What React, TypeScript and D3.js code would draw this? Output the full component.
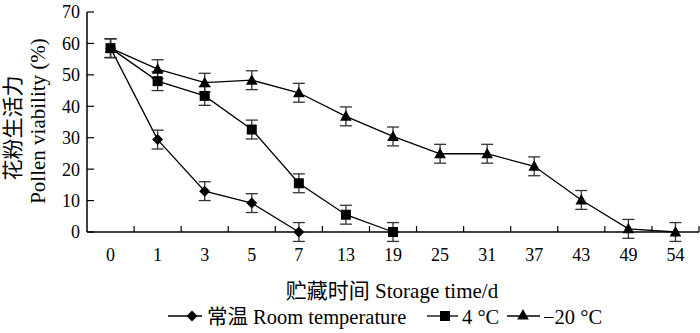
import * as d3 from "d3"

// storage time categories (days)
const days = ["0", "1", "3", "5", "7", "13", "19", "25", "31", "37", "43", "49", "54"]
const yTicks = [0, 10, 20, 30, 40, 50, 60, 70]

// pollen viability (%) per treatment
const roomTemp = [58.5, 29.4, 13.0, 9.2, 0]
const fourC = [58.5, 48.0, 43.3, 32.6, 15.5, 5.5, 0]
const minus20 = [58.5, 51.8, 47.5, 48.3, 44.3, 36.8, 30.4, 24.9, 24.9, 20.9, 10.2, 1.0, 0]
const errRoom = [3, 3, 3, 3, 3]
const errFour = [3, 3, 3, 3, 3, 3, 3]
const errMinus = [3, 3, 3, 3, 3, 3, 3, 3, 3, 3, 3, 3, 3]

const FONT = "'Liberation Serif', 'Times New Roman', 'Noto Sans CJK SC', serif"

const W = 700
const H = 333
const left = 87
const right = 699
const top = 12
const bottom = 232

const x = d3.scaleBand<string>().domain(days).range([left, right]).padding(0)
const y = d3.scaleLinear().domain([0, 70]).range([bottom, top])

type Series = { name: string; values: number[]; errs: number[]; shape: "diamond" | "square" | "triangle" }
const series: Series[] = [
  { name: "room", values: roomTemp, errs: errRoom, shape: "diamond" },
  { name: "4", values: fourC, errs: errFour, shape: "square" },
  { name: "-20", values: minus20, errs: errMinus, shape: "triangle" },
]

function Marker({ shape, cx, cy }: { shape: string; cx: number; cy: number }) {
  if (shape === "diamond") {
    return <path d={`M${cx},${cy - 5.5}L${cx + 5.5},${cy}L${cx},${cy + 5.5}L${cx - 5.5},${cy}Z`} fill="#000" />
  }
  if (shape === "square") {
    const r = 5
    return <rect x={cx - r} y={cy - r} width={r * 2} height={r * 2} fill="#000" />
  }
  return <path d={`M${cx},${cy - 6}L${cx + 5.8},${cy + 4.5}L${cx - 5.8},${cy + 4.5}Z`} fill="#000" />
}

export default function App() {
  const cx = (i: number) => (x(days[i]) as number) + x.bandwidth() / 2
  const line = d3
    .line<number>()
    .x((_, i) => cx(i))
    .y((d) => y(d))

  const boundaries = d3.range(days.length + 1).map((i) => left + i * x.bandwidth())

  return (
    <svg width={W} height={H} style={{ position: "absolute", left: 0, top: 0, background: "#fff" }} fontFamily={FONT}>
      {/* axes */}
      <line x1={left} x2={left} y1={top} y2={bottom} stroke="#000" strokeWidth={1.5} />
      <line x1={left} x2={right} y1={bottom} y2={bottom} stroke="#000" strokeWidth={1.5} />
      {yTicks.map((t) => (
        <g key={t}>
          <line x1={left} x2={left + 7} y1={y(t)} y2={y(t)} stroke="#000" strokeWidth={1.2} />
          <text x={left - 7} y={y(t)} dy="0.36em" textAnchor="end" fontSize={18}>
            {t}
          </text>
        </g>
      ))}
      {boundaries.slice(1).map((b, i) => (
        <line key={i} x1={b} x2={b} y1={bottom} y2={bottom - 6} stroke="#000" strokeWidth={1.2} />
      ))}
      {days.map((d, i) => (
        <text key={d} x={cx(i)} y={261} textAnchor="middle" fontSize={18}>
          {d}
        </text>
      ))}

      {/* axis titles */}
      <text x={392} y={298} textAnchor="middle" fontSize={21}>
        贮藏时间 Storage time/d
      </text>
      <g transform={`translate(0,126) rotate(-90)`}>
        <text x={-2} y={20} textAnchor="middle" fontSize={21}>
          花粉生活力
        </text>
        <text x={5} y={45} textAnchor="middle" fontSize={21}>
          Pollen viability (%)
        </text>
      </g>

      {/* series lines */}
      {series.map((s) => (
        <path key={s.name} d={line(s.values) ?? ""} fill="none" stroke="#000" strokeWidth={1.3} />
      ))}
      {/* error bars */}
      {series.map((s) =>
        s.values.map((v, i) => {
          const px = cx(i)
          const y1 = y(v + s.errs[i])
          const y2 = y(v - s.errs[i])
          return (
            <g key={`${s.name}-e${i}`} stroke="#333" strokeWidth={1.3}>
              <line x1={px} x2={px} y1={y1} y2={y2} />
              <line x1={px - 6} x2={px + 6} y1={y1} y2={y1} />
              <line x1={px - 6} x2={px + 6} y1={y2} y2={y2} />
            </g>
          )
        }),
      )}
      {/* markers */}
      {series.map((s) =>
        s.values.map((v, i) => <Marker key={`${s.name}-m${i}`} shape={s.shape} cx={cx(i)} cy={y(v)} />),
      )}

      {/* legend */}
      <g fontSize={20.5}>
        <line x1={168} x2={202} y1={316} y2={316} stroke="#000" strokeWidth={1.3} />
        <Marker shape="diamond" cx={192} cy={316} />
        <text x={207} y={324}>常温 Room temperature</text>
        <line x1={427} x2={458} y1={316} y2={316} stroke="#000" strokeWidth={1.3} />
        <Marker shape="square" cx={445} cy={316} />
        <text x={462} y={324}>4 °C</text>
        <line x1={507} x2={540} y1={316} y2={316} stroke="#000" strokeWidth={1.3} />
        <Marker shape="triangle" cx={523} cy={315} />
        <text x={543} y={324}>−20 °C</text>
      </g>
    </svg>
  )
}
